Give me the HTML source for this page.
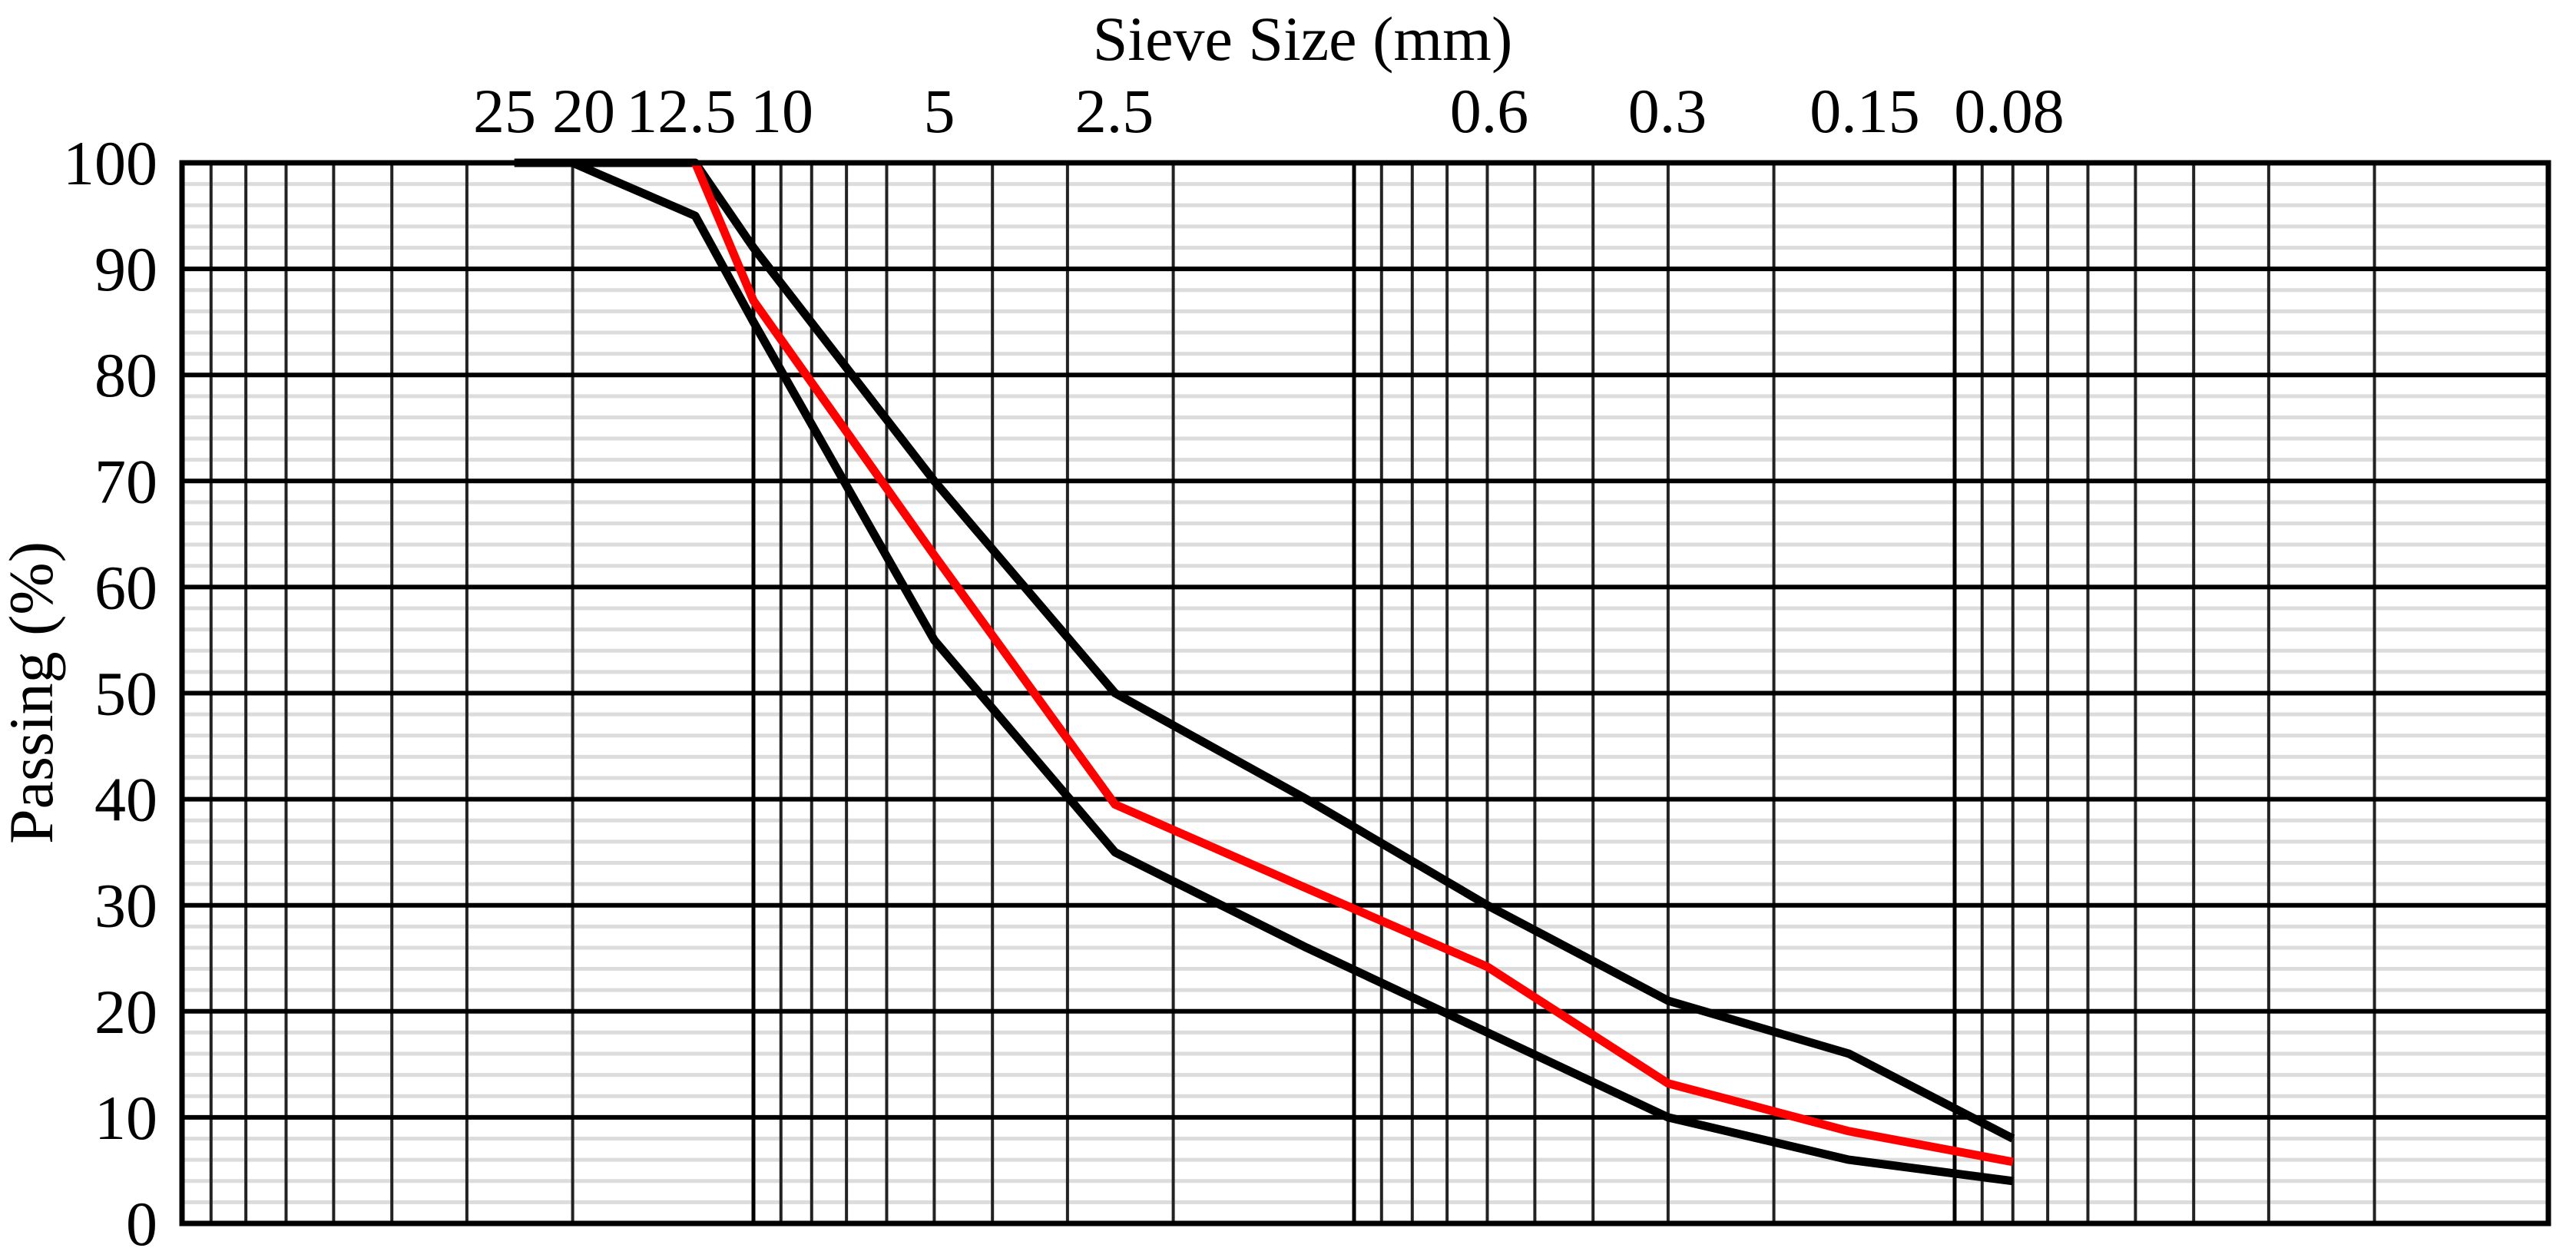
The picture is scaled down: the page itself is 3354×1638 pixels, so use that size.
<!DOCTYPE html>
<html><head><meta charset="utf-8"><style>
html,body{margin:0;padding:0;background:#fff;}
svg{display:block;}
text{font-family:"Liberation Serif","Times New Roman",serif;fill:#000;}
</style></head><body>
<svg id="chart" width="3354" height="1638" viewBox="0 0 3354 1638" xmlns="http://www.w3.org/2000/svg">
<rect x="0" y="0" width="3354" height="1638" fill="#fff"/>
<g id="minor"></g>
<g id="vgrid"></g>
<g id="hgrid"></g>
<g id="series"></g>
<rect x="237" y="212" width="3081" height="1381" fill="none" stroke="#000" stroke-width="7"/>
<g id="ylabels"></g>
<g id="xlabels"></g>
<text x="1696" y="78" font-size="82" text-anchor="middle">Sieve Size (mm)</text>
<text transform="translate(68,902) rotate(-90)" font-size="82" text-anchor="middle">Passing (%)</text>
</svg>
<script>
const sieves = [25, 20, 12.5, 10, 5, 2.5, 1.2, 0.6, 0.3, 0.15, 0.08];
const upperLimit = [100, 100, 100, 92, 70, 50, 40, 30, 21, 16, 8];
const lowerLimit = [100, 100, 95, 85, 55, 35, 26, 18, 10, 6, 4];
const gradation = [null, null, 100, 87, 63, 39.5, 31.6, 24.2, 13.2, 8.7, 5.8];
const tickLabels = ["25", "20", "12.5", "10", "5", "2.5", "0.6", "0.3", "0.15", "0.08"];
const tickLabelPos = [657, 760, 887, 1018, 1223, 1451, 1939, 2171, 2428, 2616];
const yTicks = [0, 10, 20, 30, 40, 50, 60, 70, 80, 90, 100];

const NS = "http://www.w3.org/2000/svg";
const X0 = 1763, DEC = 782, L = 237, R = 3318, T = 212, B = 1593;
function xs(d){ return X0 - DEC * Math.log10(d); }
function ys(v){ return B - (B - T) * v / 100; }
function mk(tag, attrs, parent){
  const e = document.createElementNS(NS, tag);
  for (const k in attrs) e.setAttribute(k, attrs[k]);
  parent.appendChild(e);
  return e;
}
const minor = document.getElementById('minor');
for (let v = 2; v < 100; v += 2) {
  if (v % 10 === 0) continue;
  const ln = mk('line', {x1: L, x2: R, y1: ys(v), y2: ys(v), stroke: '#dcdcdc', 'stroke-width': 5}, minor);
  
  
}
const vgrid = document.getElementById('vgrid');
for (let n = -2; n <= 1; n++) {
  for (let k = 1; k <= 9; k++) {
    const d = k * Math.pow(10, n);
    if (d < 0.02 || d > 80) continue;
    const x = xs(d);
    const ln = mk('line', {x1: x, x2: x, y1: T, y2: B, stroke: k === 1 ? '#000' : '#222', 'stroke-width': k === 1 ? 5 : 4}, vgrid);
    
    
  }
}
const hgrid = document.getElementById('hgrid');
const ylabels = document.getElementById('ylabels');
yTicks.forEach(v => {
  const ln = mk('line', {x1: L, x2: R, y1: ys(v), y2: ys(v), stroke: '#000', 'stroke-width': 6}, hgrid);
  
  
  const t = mk('text', {x: 205, y: ys(v) + 28, 'font-size': 82, 'text-anchor': 'end'}, ylabels);
  t.textContent = v;
  
  
});
const xlabels = document.getElementById('xlabels');
tickLabels.forEach((s, i) => {
  const t = mk('text', {x: tickLabelPos[i], y: 172, 'font-size': 82, 'text-anchor': 'middle'}, xlabels);
  t.textContent = s;
  
  
});
const series = document.getElementById('series');
function draw(vals, color, name){
  const pts = [];
  vals.forEach((v, i) => { if (v !== null) pts.push(xs(sieves[i]).toFixed(1) + ',' + ys(v).toFixed(1)); });
  const p = mk('polyline', {points: pts.join(' '), fill: 'none', stroke: color, 'stroke-width': 11, 'stroke-linejoin': 'round'}, series);
  
  
}
draw(upperLimit, '#000', 'upper-limit-line');
draw(lowerLimit, '#000', 'lower-limit-line');
draw(gradation, '#ff0000', 'gradation-line');
</script>
</body></html>
